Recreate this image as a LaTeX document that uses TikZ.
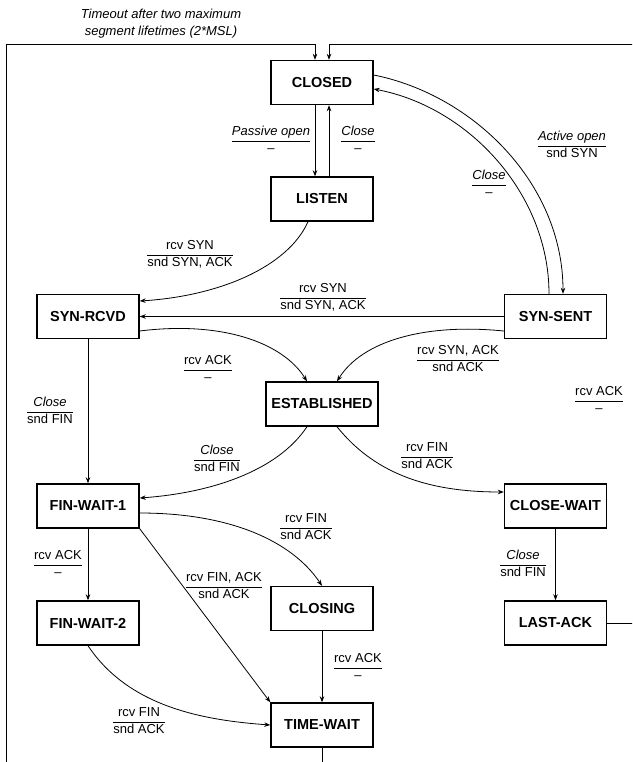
\documentclass[tikz,border=0pt]{standalone}
\usepackage{fontspec}
\setmainfont{Liberation Sans}
\usetikzlibrary{arrows.meta}
\newcommand\frl[2]{{\renewcommand\arraystretch{1.0}\setlength\arrayrulewidth{0.6pt}\begin{tabular}{@{}c@{}}#1\\\hline #2\end{tabular}}}
\begin{document}
\begin{tikzpicture}[x=1pt,y=-1pt,
 state/.style={draw, line width=1.4pt, minimum width=102pt, minimum height=44pt, inner sep=0pt, font=\fontsize{14.5}{16}\selectfont\bfseries},
 lbl/.style={inner sep=0pt, font=\fontsize{13}{16.5}\selectfont},
 arr/.style={line width=0.8pt, -{Stealth[length=6pt,width=4.5pt]}},
 ln/.style={line width=0.8pt}]
\clip (0,0) rectangle (632,762);
\fill[white] (0,0) rectangle (632,762);
% states
\node[state] (closed) at (322,82.5) {CLOSED};
\node[state] (listen) at (322,199) {LISTEN};
\node[state] (synrcvd) at (88,316.5) {SYN-RCVD};
\node[state] (synsent) at (555.5,316.5) {SYN-SENT};
\node[state, minimum width=112pt] (estab) at (322,404) {ESTABLISHED};
\node[state] (fw1) at (88,506) {FIN-WAIT-1};
\node[state] (cw) at (555.5,506) {CLOSE-WAIT};
\node[state] (fw2) at (88,623) {FIN-WAIT-2};
\node[state] (closing) at (322,608.5) {CLOSING};
\node[state] (la) at (555.5,623) {LAST-ACK};
\node[state] (tw) at (322,725) {TIME-WAIT};
% frame coordinates
\coordinate (tl) at (6,44);
\coordinate (bl) at (6,800);
\coordinate (tr) at (650,44);
% caption
\node[lbl, align=center, font=\fontsize{13}{17}\selectfont\itshape] (cap) at (161,23.5) {Timeout after two maximum\\segment lifetimes (2*MSL)};
% frame connectors
\draw[arr] (tw.south) |- (bl) -- (tl) -| ([xshift=-7pt]closed.north);
\draw[arr] (la.east) -| (tr) -| ([xshift=7pt]closed.north);
% closed/listen
\draw[arr] ([xshift=-7pt]closed.south) -- ([xshift=-7pt]listen.north);
\draw[arr] ([xshift=7pt]listen.north) -- ([xshift=7pt]closed.south);
\node[lbl] (l1) at (271,141) {\frl{\itshape Passive open}{--}};
\node[lbl] (l2) at (358,141) {\frl{\itshape Close}{--}};
% closed/synsent
\draw[arr] ([yshift=7.5pt]closed.east) .. controls +(100,20) and +(0,-110) .. ([xshift=7.5pt]synsent.north);
\draw[arr] ([xshift=-6.5pt]synsent.north) .. controls +(0,-100) and +(95,18) .. ([yshift=-6.5pt]closed.east);
\node[lbl] (l3) at (572,146) {\frl{\itshape Active open}{snd SYN}};
\node[lbl] (l4) at (489,185) {\frl{\itshape Close}{--}};
% listen -> synrcvd
\draw[arr] ([xshift=-14pt]listen.south) .. controls +(-20,45) and +(80,-5) .. ([yshift=15.5pt]synrcvd.east);
\node[lbl] (l5) at (190,255) {\frl{rcv SYN}{snd SYN, ACK}};
% synsent -> synrcvd
\draw[arr] (synsent.west) -- (synrcvd.east);
\node[lbl] (l6) at (323,298) {\frl{rcv SYN}{snd SYN, ACK}};
% to established
\draw[arr] ([yshift=-14.5pt]synrcvd.east) .. controls +(80,-10) and +(-25,-40) .. ([xshift=-15pt]estab.north);
\node[lbl] (l7) at (208,370) {\frl{rcv ACK}{--}};
\draw[arr] ([yshift=-14.5pt]synsent.west) .. controls +(-80,-8) and +(25,-40) .. ([xshift=15pt]estab.north);
\node[lbl] (l8) at (458,360) {\frl{rcv SYN, ACK}{snd ACK}};
\node[lbl] (l9) at (599,401) {\frl{rcv ACK}{--}};
% synrcvd -> fw1
\draw[arr] (synrcvd.south) -- (fw1.north);
\node[lbl] (l10) at (50,412) {\frl{\itshape Close}{snd FIN}};
% estab -> fw1, cw
\draw[arr] ([xshift=-15pt]estab.south) .. controls +(-30,45) and +(70,-5) .. ([yshift=8pt]fw1.east);
\node[lbl] (l11) at (217,460) {\frl{\itshape Close}{snd FIN}};
\draw[arr] ([xshift=15pt]estab.south) .. controls +(40,50) and +(-70,0) .. ([yshift=14pt]cw.west);
\node[lbl] (l12) at (427,457) {\frl{rcv FIN}{snd ACK}};
% fw1 transitions
\draw[arr] ([yshift=-7pt]fw1.east) .. controls +(90,0) and +(-30,-45) .. (closing.north);
\node[lbl] (l13) at (306,528) {\frl{rcv FIN}{snd ACK}};
\draw[arr] (fw1.south) -- (fw2.north);
\node[lbl] (l14) at (58,565) {\frl{rcv ACK}{--}};
\draw[arr] (fw1.south east) -- (tw.north west);
\node[lbl] (l15) at (224,587) {\frl{rcv FIN, ACK}{snd ACK}};
% cw -> la
\draw[arr] (cw.south) -- (la.north);
\node[lbl] (l16) at (523,565) {\frl{\itshape Close}{snd FIN}};
% closing -> tw
\draw[arr] (closing.south) -- (tw.north);
\node[lbl] (l17) at (358,668) {\frl{rcv ACK}{--}};
% fw2 -> tw
\draw[arr] (fw2.south) .. controls +(40,60) and +(-70,-5) .. (tw.west);
\node[lbl] (l18) at (139,722) {\frl{rcv FIN}{snd ACK}};
\end{tikzpicture}
\end{document}
